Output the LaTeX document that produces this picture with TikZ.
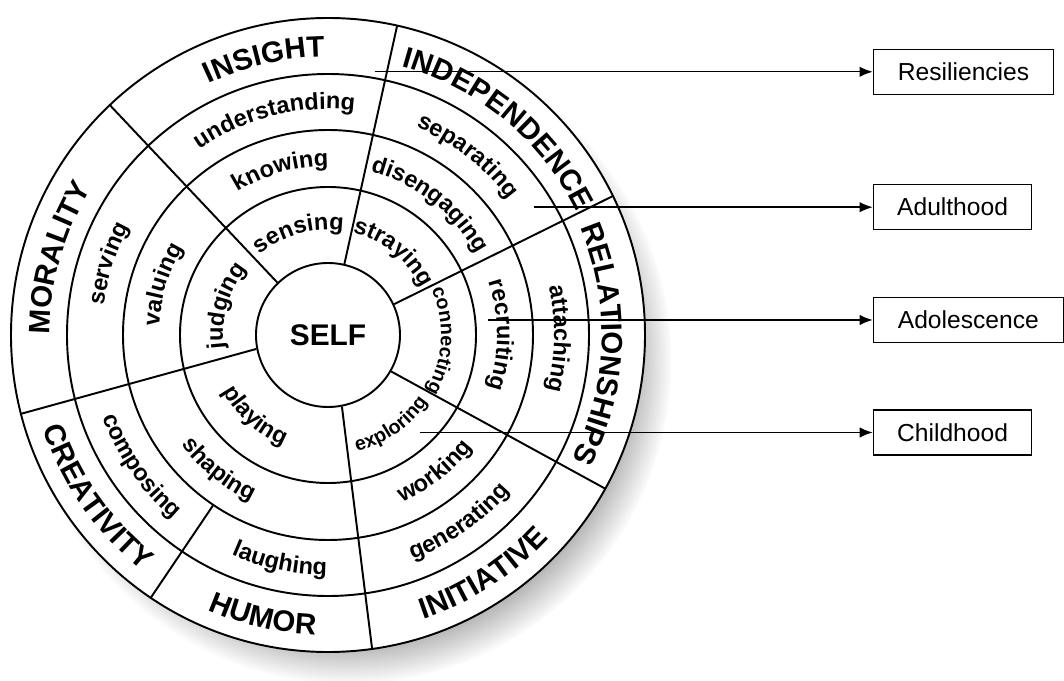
\documentclass[tikz,border=0pt]{standalone}
\usepackage{fontspec}
\setmainfont{Liberation Sans}
\usetikzlibrary{arrows.meta,decorations.text,shadows,fadings}

\newcommand{\lowfont}{\bfseries\fontsize{13.4}{16}\selectfont}
\newcommand{\smallfont}{\bfseries\fontsize{11.2}{13}\selectfont}
\newcommand{\capfont}{\bfseries\fontsize{16.8}{20}\selectfont}
% curved label read clockwise: angle, baseline radius, text, font
\newcommand{\cwtext}[4]{%
  \path[decorate, decoration={text along path, text align=center, text={|#4|#3}}]
    ({#1+70}:#2) arc[start angle={#1+70}, end angle={#1-70}, radius=#2];}
% curved label read counter-clockwise (lower half)
\newcommand{\ccwtext}[4]{%
  \path[decorate, decoration={text along path, text align=center, text={|#4|#3}}]
    ({#1-70}:#2) arc[start angle={#1-70}, end angle={#1+70}, radius=#2];}

\begin{document}
\begin{tikzpicture}[x=0.2mm, y=0.2mm,
    ring/.style={line width=1.1pt},
    stage/.style={draw, line width=0.7pt, anchor=west, minimum height=9mm, inner sep=0pt, font=\fontsize{14}{16}\selectfont},
    arrow/.style={-{Latex[length=7.5pt, width=6pt]}, line width=0.8pt}
]
    \useasboundingbox (-328,-346) rectangle (736,335);

    % Wheel
    \fill[white, circular drop shadow={shadow xshift=4mm, shadow yshift=-5mm, shadow scale=1.02, opacity=0.7}] (0,0) circle[radius=317];
    \foreach \rad in {148,205,261,317}
        \draw[ring] (0,0) circle[radius=\rad];
    \node[draw, circle, ring, fill=white, minimum size=28.8mm, inner sep=0pt, font=\bfseries\fontsize{17}{20}\selectfont] (self) at (0,0) {SELF};

    % Dividers
    \draw[ring] (self.134) -- (133.5:317);
    \draw[ring] (self.77) -- (77.4:317);
    \draw[ring] (self.25) -- (26:317);
    \draw[ring] (self.330.7) -- (331:317);
    \draw[ring] (self.281.5) -- (278:317);
    \draw[ring] (self.191.6) -- (194.4:317);
    \draw[ring] (236:205) -- (236:317);

    % Childhood ring
    \cwtext{164}{105}{judging}{\lowfont}
    \cwtext{106}{105}{sensing}{\lowfont}
    \cwtext{51.5}{105}{straying}{\lowfont}
    \cwtext{-3}{113}{connecting}{\smallfont}
    \ccwtext{-55}{120}{exploring}{\smallfont}
    \ccwtext{228}{119}{playing}{\lowfont}

    % Adolescence ring
    \cwtext{163}{169}{valuing}{\lowfont}
    \cwtext{106}{169}{knowing}{\lowfont}
    \cwtext{52}{169}{disengaging}{\lowfont}
    \cwtext{0}{169}{recruiting}{\lowfont}
    \ccwtext{-52}{183}{working}{\lowfont}
    \ccwtext{231}{183}{shaping}{\lowfont}

    % Adulthood ring
    \cwtext{162}{226}{serving}{\lowfont}
    \cwtext{104}{226}{understanding}{\lowfont}
    \cwtext{52}{226}{separating}{\lowfont}
    \cwtext{-1}{226}{attaching}{\lowfont}
    \ccwtext{-55}{240}{generating}{\lowfont}
    \ccwtext{258}{240}{laughing}{\lowfont}
    \ccwtext{215}{240}{composing}{\lowfont}

    % Resiliencies ring
    \cwtext{164}{278}{MORALITY}{\capfont}
    \cwtext{103}{278}{INSIGHT}{\capfont}
    \cwtext{50.5}{278}{INDEPENDENCE}{\capfont}
    \cwtext{-2}{274}{RELATIONSHIPS}{\capfont}
    \ccwtext{-57}{300}{INITIATIVE}{\capfont}
    \ccwtext{257}{300}{HUMOR}{\capfont}
    \ccwtext{215}{300}{CREATIVITY}{\capfont}

    % Stage boxes
    \node[stage, minimum width=36.1mm] (resiliencies) at (544.7,263.2) {Resiliencies};
    \node[stage, minimum width=31.7mm] (adulthood) at (544.7,127.8) {Adulthood};
    \node[stage, minimum width=38mm] (adolescence) at (544.7,15) {Adolescence};
    \node[stage, minimum width=31.7mm] (childhood) at (544.7,-97.5) {Childhood};

    % Arrows
    \coordinate (resStart) at (47,263.2);
    \coordinate (adultStart) at (205.7,127.8);
    \coordinate (adolStart) at (160,15);
    \coordinate (childStart) at (92,-97.5);
    \draw[arrow] (resStart) -- (resiliencies.west);
    \draw[arrow] (adultStart) -- (adulthood.west);
    \draw[arrow] (adolStart) -- (adolescence.west);
    \draw[arrow] (childStart) -- (childhood.west);
\end{tikzpicture}
\end{document}
